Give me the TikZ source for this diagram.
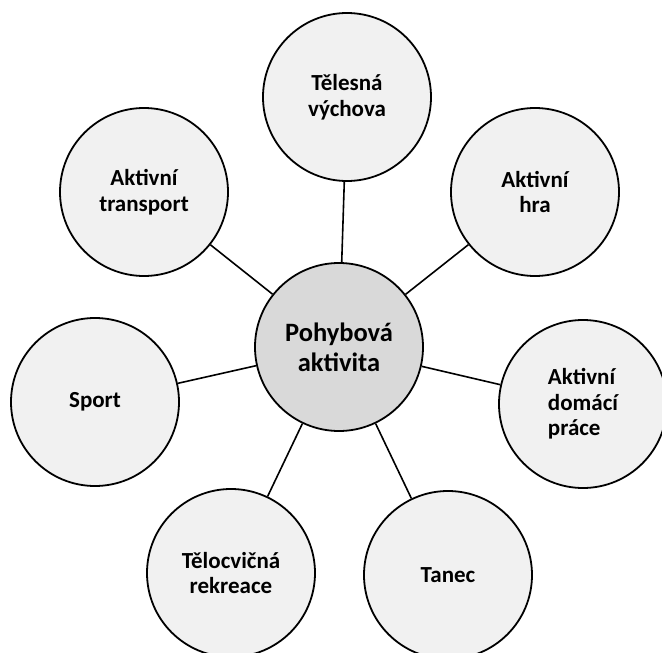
\documentclass[tikz,border=0pt]{standalone}
\usepackage{fontspec}
\setmainfont{Carlito}
\definecolor{outerfill}{HTML}{F1F1F1}
\definecolor{centerfill}{HTML}{D9D9D9}
\begin{document}
\begin{tikzpicture}[x=1pt,y=-1pt,
  bubble/.style={circle,draw=black,line width=1.8pt,fill=outerfill,minimum size=168pt,inner sep=0pt,align=center,
    font=\fontsize{23}{25.5}\selectfont\bfseries},
  hub/.style={bubble,fill=centerfill,font=\fontsize{26.5}{30}\selectfont\bfseries},
  link/.style={line width=1.6pt,draw=black}]
\useasboundingbox (0,0) rectangle (662,653);
\node[hub] (c) at (339,347) {Pohybová\\aktivita};
\node[bubble] (tv) at (347,97) {Tělesná\\výchova};
\node[bubble] (at) at (144,192) {Aktivní\\transport};
\node[bubble] (ah) at (535,192) {Aktivní\\hra};
\node[bubble,align=left] (sp) at (95,402) {Sport};
\node[bubble,align=left] (ad) at (583,404) {Aktivní\\domácí\\práce};
\node[bubble] (tr) at (231,573) {Tělocvičná\\rekreace};
\node[bubble] (ta) at (448,575) {Tanec};
\foreach \n in {tv,at,ah,sp,ad,tr,ta} \draw[link] (c) -- (\n);
\end{tikzpicture}
\end{document}
